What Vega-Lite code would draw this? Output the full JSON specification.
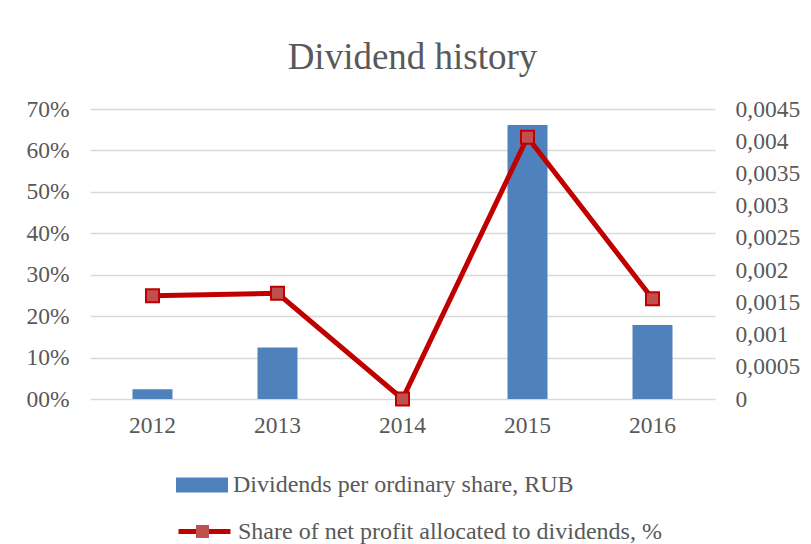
{
  "$schema": "https://vega.github.io/schema/vega-lite/v6.json",
  "width": 625,
  "height": 290,
  "autosize": {"type": "none"},
  "padding": {"left": 90, "top": 109, "right": 96, "bottom": 145},
  "background": "white",
  "config": {
    "view": {"stroke": null},
    "font": "Liberation Serif",
    "axis": {"labelFont": "Liberation Serif", "labelColor": "#595959", "labelFontSize": 23.5, "ticks": false, "domain": false, "title": null},
    "legend": {"labelFont": "Liberation Serif", "labelColor": "#595959", "labelFontSize": 24, "padding": 0, "symbolOffset": 0, "labelLimit": 700}
  },
  "title": {
    "text": "Dividend history",
    "font": "Liberation Serif",
    "fontSize": 37,
    "fontWeight": "normal",
    "color": "#595959",
    "anchor": "middle",
    "dx": 10,
    "offset": 20
  },
  "data": {
    "values": [
      {"year": "2012", "div": 0.00015, "share": 0.249},
      {"year": "2013", "div": 0.0008, "share": 0.255},
      {"year": "2014", "div": 0, "share": 0},
      {"year": "2015", "div": 0.00425, "share": 0.632},
      {"year": "2016", "div": 0.00115, "share": 0.242}
    ]
  },
  "encoding": {
    "x": {
      "field": "year",
      "type": "nominal",
      "scale": {"paddingInner": 0.68, "paddingOuter": 0.34},
      "axis": {"labelAngle": 0, "labelPadding": 14, "grid": false}
    }
  },
  "layer": [
    {
      "mark": {"type": "bar"},
      "encoding": {
        "y": {
          "field": "div",
          "type": "quantitative",
          "scale": {"domain": [0, 0.0045], "nice": false},
          "axis": {
            "orient": "right",
            "grid": false,
            "values": [0, 0.0005, 0.001, 0.0015, 0.002, 0.0025, 0.003, 0.0035, 0.004, 0.0045],
            "labelPadding": 20,
            "labelExpr": "datum.value == 0 ? '0' : replace(format(datum.value, '.4~f'), '.', ',')"
          }
        },
        "fill": {
          "datum": "Dividends per ordinary share, RUB",
          "scale": {"range": ["#4F81BD"]},
          "legend": {
            "title": null,
            "orient": "none",
            "legendX": 86,
            "legendY": 350,
            "symbolType": "M-1,-0.29H1V0.29H-1Z",
            "symbolSize": 2704,
            "symbolStrokeWidth": 0,
            "labelOffset": 5,
            "labelLimit": 700
          }
        }
      }
    },
    {
      "mark": {"type": "line", "strokeWidth": 5},
      "encoding": {
        "y": {
          "field": "share",
          "type": "quantitative",
          "scale": {"domain": [0, 0.7], "nice": false},
          "axis": {
            "orient": "left",
            "grid": true,
            "gridColor": "#D9D9D9",
            "gridWidth": 1.5,
            "values": [0, 0.1, 0.2, 0.3, 0.4, 0.5, 0.6, 0.7],
            "labelPadding": 21,
            "labelExpr": "datum.value == 0 ? '00%' : format(datum.value, '.0%')"
          }
        },
        "stroke": {
          "datum": "Share of net profit allocated to dividends, %",
          "scale": {"range": ["#C00000"]},
          "legend": {
            "title": null,
            "orient": "none",
            "legendX": 86,
            "legendY": 394,
            "symbolType": "M-1,0H1",
            "symbolSize": 2704,
            "symbolStrokeWidth": 5,
            "labelOffset": 5,
            "labelLimit": 700
          }
        }
      }
    },
    {
      "mark": {"type": "point", "shape": "square", "filled": true, "size": 169, "fill": "#C0504D", "stroke": "#C00000", "strokeWidth": 2, "opacity": 1},
      "encoding": {
        "y": {"field": "share", "type": "quantitative", "scale": {"domain": [0, 0.7], "nice": false}, "axis": null},
        "shape": {
          "datum": "Share of net profit allocated to dividends, %",
          "scale": {"range": ["square"]},
          "legend": {
            "title": null,
            "orient": "none",
            "legendX": 105,
            "legendY": 415,
            "symbolSize": 169,
            "symbolFillColor": "#C0504D",
            "symbolStrokeColor": "#C00000",
            "symbolStrokeWidth": 2,
            "labelFontSize": 1,
            "labelOpacity": 0
          }
        }
      }
    }
  ],
  "resolve": {"scale": {"y": "independent", "fill": "independent", "stroke": "independent", "shape": "independent"}, "legend": {"fill": "independent", "stroke": "independent", "shape": "independent"}}
}
